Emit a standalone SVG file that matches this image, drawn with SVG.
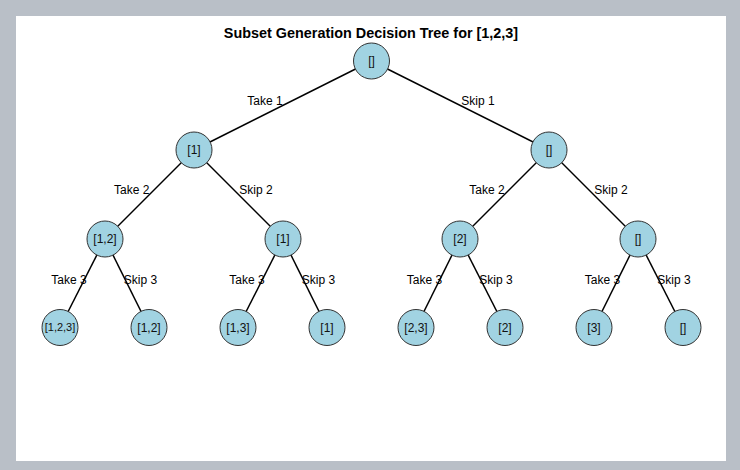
<svg xmlns="http://www.w3.org/2000/svg" width="740" height="470" viewBox="0 0 740 470">
<style>
.node circle{fill:#a1d3e2;stroke:#333;stroke-width:1}
.node text{font-family:"Liberation Sans",Arial,sans-serif;font-size:12px;fill:#111;text-anchor:middle}
.edges line{stroke:#000;stroke-width:1.5}
.lbl{font-family:"Liberation Sans",Arial,sans-serif;font-size:12px;fill:#000;text-anchor:middle}
.title{font-family:"Liberation Sans",Arial,sans-serif;font-size:14.4px;font-weight:bold;fill:#000;text-anchor:middle}
</style>
<rect x="0" y="0" width="740" height="470" fill="#b9bfc7"/>
<rect x="16" y="16" width="710" height="445" fill="#fff"/>
<text class="title" x="371" y="38">Subset Generation Decision Tree for [1,2,3]</text>
<g id="connectors" class="edges">
<line x1="371.5" y1="61" x2="194" y2="150"/>
<line x1="371.5" y1="61" x2="549" y2="150"/>
<line x1="194" y1="150" x2="105" y2="239"/>
<line x1="194" y1="150" x2="283" y2="239"/>
<line x1="549" y1="150" x2="460" y2="239"/>
<line x1="549" y1="150" x2="638" y2="239"/>
<line x1="105" y1="239" x2="60" y2="327.5"/>
<line x1="105" y1="239" x2="149" y2="327.5"/>
<line x1="283" y1="239" x2="238" y2="327.5"/>
<line x1="283" y1="239" x2="327" y2="327.5"/>
<line x1="460" y1="239" x2="416" y2="327.5"/>
<line x1="460" y1="239" x2="505" y2="327.5"/>
<line x1="638" y1="239" x2="594" y2="327.5"/>
<line x1="638" y1="239" x2="683" y2="327.5"/>
</g>
<g id="edge-labels">
<text class="lbl" x="265" y="105">Take 1</text>
<text class="lbl" x="478" y="105">Skip 1</text>
<text class="lbl" x="131.7" y="194">Take 2</text>
<text class="lbl" x="256" y="194">Skip 2</text>
<text class="lbl" x="487" y="194">Take 2</text>
<text class="lbl" x="611" y="194">Skip 2</text>
<text class="lbl" x="69" y="283.5">Take 3</text>
<text class="lbl" x="140.5" y="283.5">Skip 3</text>
<text class="lbl" x="247" y="283.5">Take 3</text>
<text class="lbl" x="318.5" y="283.5">Skip 3</text>
<text class="lbl" x="424.5" y="283.5">Take 3</text>
<text class="lbl" x="496" y="283.5">Skip 3</text>
<text class="lbl" x="602.5" y="283.5">Take 3</text>
<text class="lbl" x="674" y="283.5">Skip 3</text>
</g>
<g id="n-root" class="node"><circle cx="371.5" cy="61" r="18"/><text x="371.5" y="65">[]</text></g>
<g id="n-1" class="node"><circle cx="194" cy="150" r="18"/><text x="194" y="154">[1]</text></g>
<g id="n-e1" class="node"><circle cx="549" cy="150" r="18"/><text x="549" y="154">[]</text></g>
<g id="n-12" class="node"><circle cx="105" cy="239" r="18"/><text x="105" y="243">[1,2]</text></g>
<g id="n-1b" class="node"><circle cx="283" cy="239" r="18"/><text x="283" y="243">[1]</text></g>
<g id="n-2" class="node"><circle cx="460" cy="239" r="18"/><text x="460" y="243">[2]</text></g>
<g id="n-e2" class="node"><circle cx="638" cy="239" r="18"/><text x="638" y="243">[]</text></g>
<g id="n-123" class="node"><circle cx="60" cy="327.5" r="18"/><text x="60" y="331" style="font-size:11px">[1,2,3]</text></g>
<g id="n-12b" class="node"><circle cx="149" cy="327.5" r="18"/><text x="149" y="331.5">[1,2]</text></g>
<g id="n-13" class="node"><circle cx="238" cy="327.5" r="18"/><text x="238" y="331.5">[1,3]</text></g>
<g id="n-1c" class="node"><circle cx="327" cy="327.5" r="18"/><text x="327" y="331.5">[1]</text></g>
<g id="n-23" class="node"><circle cx="416" cy="327.5" r="18"/><text x="416" y="331.5">[2,3]</text></g>
<g id="n-2b" class="node"><circle cx="505" cy="327.5" r="18"/><text x="505" y="331.5">[2]</text></g>
<g id="n-3" class="node"><circle cx="594" cy="327.5" r="18"/><text x="594" y="331.5">[3]</text></g>
<g id="n-e3" class="node"><circle cx="683" cy="327.5" r="18"/><text x="683" y="331.5">[]</text></g>
</svg>
